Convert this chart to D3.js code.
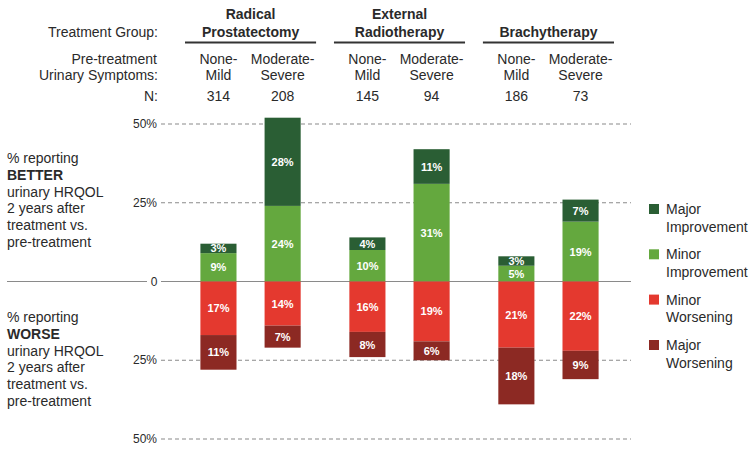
<!DOCTYPE html>
<html><head><meta charset="utf-8">
<script src="https://cdn.jsdelivr.net/npm/d3@7"></script>
<style>body{margin:0;background:#fff}svg{display:block;font-family:"Liberation Sans",Arial,sans-serif}</style>
</head><body><svg id="c" width="754" height="452"></svg>
<script>
const groups = ["Radical Prostatectomy", "External Radiotherapy", "Brachytherapy"];
const groupTitleLines = [["Radical", "Prostatectomy"], ["External", "Radiotherapy"], ["Brachytherapy"]];
const subgroups = ["None-Mild", "Moderate-Severe"];
const subgroupLabelLines = [["None-", "Mild"], ["Moderate-", "Severe"]];
const nValues = [314, 208, 145, 94, 186, 73];
const majorImprovement = [3, 28, 4, 11, 3, 7];
const minorImprovement = [9, 24, 10, 31, 5, 19];
const minorWorsening = [17, 14, 16, 19, 21, 22];
const majorWorsening = [11, 7, 8, 6, 18, 9];
const yTickValues = [50, 25, 0, -25, -50];
const yTickLabels = ["50%", "25%", "0", "25%", "50%"];
const legendLabels = [["Major", "Improvement"], ["Minor", "Improvement"], ["Minor", "Worsening"], ["Major", "Worsening"]];
const colors = ["#2a5e34", "#64a83e", "#e4392f", "#8c2923"];

const svg = d3.select("#c");
const txt = "#2a2a2a";

const x0 = d3.scaleBand().domain(groups).range([185, 614]).paddingInner(0.12).paddingOuter(0);
const x1 = d3.scaleBand().domain(subgroups).range([0, x0.bandwidth()]).paddingInner(0.4375).paddingOuter(0.24);
const y = d3.scaleLinear().domain([-50, 50]).range([439, 124]);

// columns
const cols = [];
groups.forEach((g, gi) => subgroups.forEach((s, si) => {
  const i = gi * 2 + si;
  cols.push({g, s, gi, si, i, x: x0(g) + x1(s), n: nValues[i]});
}));

// gridlines
yTickValues.forEach((v, k) => {
  if (v === 0) {
    svg.append("line").attr("x1", 7).attr("x2", 147).attr("y1", y(0)).attr("y2", y(0)).attr("stroke", "#8a8a8a").attr("stroke-width", 1.2);
    svg.append("line").attr("x1", 161).attr("x2", 631).attr("y1", y(0)).attr("y2", y(0)).attr("stroke", "#8a8a8a").attr("stroke-width", 1.2);
    svg.append("text").attr("x", 154).attr("y", y(0) + 4).attr("text-anchor", "middle").attr("font-size", 12).attr("fill", txt).text(yTickLabels[k]);
  } else {
    svg.append("line").attr("x1", 161).attr("x2", 631).attr("y1", y(v)).attr("y2", y(v)).attr("stroke", "#8a8a8a").attr("stroke-width", 1.2).attr("stroke-dasharray", "4,3");
    svg.append("text").attr("x", 157).attr("y", y(v) + 4).attr("text-anchor", "end").attr("font-size", 12).attr("fill", txt).text(yTickLabels[k]);
  }
});

// segments
const segs = [];
cols.forEach(c => {
  const mi = minorImprovement[c.i], ma = majorImprovement[c.i], mw = minorWorsening[c.i], Mw = majorWorsening[c.i];
  segs.push({c, y0: 0, y1: mi, v: mi, k: 1});
  segs.push({c, y0: mi, y1: mi + ma, v: ma, k: 0});
  segs.push({c, y0: 0, y1: -mw, v: mw, k: 2});
  segs.push({c, y0: -mw, y1: -(mw + Mw), v: Mw, k: 3});
});
svg.append("g").selectAll("rect").data(segs).join("rect")
  .attr("x", d => d.c.x).attr("width", x1.bandwidth())
  .attr("y", d => Math.min(y(d.y0), y(d.y1)))
  .attr("height", d => Math.abs(y(d.y0) - y(d.y1)))
  .attr("fill", d => colors[d.k]);
svg.append("g").selectAll("text").data(segs).join("text")
  .attr("x", d => d.c.x + x1.bandwidth() / 2)
  .attr("y", d => (y(d.y0) + y(d.y1)) / 2 + 4)
  .attr("text-anchor", "middle").attr("font-size", 11).attr("font-weight", "bold").attr("fill", "#fff")
  .text(d => d.v + "%");

// header
svg.append("text").attr("x", 158).attr("y", 37).attr("text-anchor", "end").attr("font-size", 14).attr("fill", txt).text("Treatment Group:");
svg.append("text").attr("x", 157).attr("y", 64).attr("text-anchor", "end").attr("font-size", 14).attr("fill", txt).text("Pre-treatment");
svg.append("text").attr("x", 158).attr("y", 80).attr("text-anchor", "end").attr("font-size", 14).attr("fill", txt).text("Urinary Symptoms:");
svg.append("text").attr("x", 158).attr("y", 101).attr("text-anchor", "end").attr("font-size", 14).attr("fill", txt).text("N:");

groups.forEach((g, gi) => {
  const cx = x0(g) + x0.bandwidth() / 2;
  const lines = groupTitleLines[gi];
  lines.forEach((l, li) => {
    svg.append("text").attr("x", cx).attr("y", 37 - (lines.length - 1 - li) * 18)
      .attr("text-anchor", "middle").attr("font-size", 14).attr("font-weight", "bold").attr("fill", txt).text(l);
  });
  svg.append("line").attr("x1", x0(g)).attr("x2", x0(g) + x0.bandwidth()).attr("y1", 42.5).attr("y2", 42.5)
    .attr("stroke", "#333").attr("stroke-width", 2);
});
cols.forEach(c => {
  const cx = c.x + x1.bandwidth() / 2;
  subgroupLabelLines[c.si].forEach((l, li) => {
    svg.append("text").attr("x", cx).attr("y", 64 + li * 16).attr("text-anchor", "middle").attr("font-size", 14).attr("fill", txt).text(l);
  });
  svg.append("text").attr("x", cx).attr("y", 101).attr("text-anchor", "middle").attr("font-size", 14).attr("fill", txt).text(c.n);
});

// left annotations
function leftBlock(y0, word) {
  const lines = [["% reporting", false], [word, true], ["urinary HRQOL", false], ["2 years after", false], ["treatment vs.", false], ["pre-treatment", false]];
  lines.forEach((l, i) => {
    svg.append("text").attr("x", 7).attr("y", y0 + i * 16.8).attr("font-size", 14)
      .attr("font-weight", l[1] ? "bold" : "normal").attr("fill", txt).text(l[0]);
  });
}
leftBlock(163, "BETTER");
leftBlock(322, "WORSE");

// legend
const legY = [209, 254.3, 299.6, 345];
legendLabels.forEach((lab, k) => {
  svg.append("rect").attr("x", 649).attr("y", legY[k] - 5).attr("width", 10).attr("height", 10).attr("fill", colors[k]);
  lab.forEach((l, li) => {
    svg.append("text").attr("x", 666).attr("y", legY[k] + 5 + li * 17.5).attr("font-size", 14).attr("fill", txt).text(l);
  });
});
</script></body></html>
